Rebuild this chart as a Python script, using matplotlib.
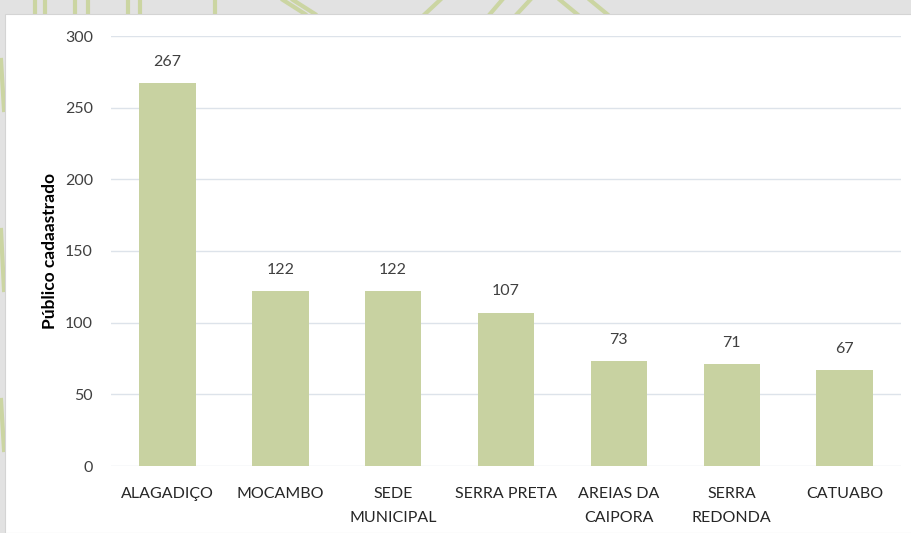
import matplotlib.pyplot as plt
from matplotlib.lines import Line2D
from matplotlib.patches import Rectangle

categories = ['ALAGADIÇO', 'MOCAMBO', 'SEDE\nMUNICIPAL', 'SERRA PRETA',
              'AREIAS DA\nCAIPORA', 'SERRA\nREDONDA', 'CATUABO']
values = [267, 122, 122, 107, 73, 71, 67]
yticks = [0, 50, 100, 150, 200, 250, 300]

plt.rcParams['font.family'] = ['Lato', 'DejaVu Sans']

W, H = 911, 533
fig = plt.figure(figsize=(W / 100, H / 100), dpi=100, facecolor='#e2e2e2')

# decorative green strokes peeking out behind the card (pixel coords, y from top)
deco = [((35, 35), (0, 14)), ((45, 45), (0, 14)), ((75, 75), (0, 14)),
        ((88, 88), (0, 14)), ((128, 128), (0, 14)), ((140, 140), (0, 14)),
        ((215, 215), (0, 14)), ((283, 305), (0, 14)), ((293, 315), (0, 14)),
        ((425, 440), (14, 0)), ((490, 502), (14, 0)), ((517, 530), (14, 0)),
        ((560, 577), (0, 14)), ((590, 607), (0, 14)),
        ((1, 4), (60, 110)), ((1, 4), (230, 290)), ((1, 4), (400, 450))]
for xs, ys in deco:
    fig.add_artist(Line2D([v / W for v in xs], [1 - v / H for v in ys],
                          transform=fig.transFigure, color='#cbd5a2', lw=3, zorder=-10))

# white card behind the chart
fig.patches.append(Rectangle((5 / W, 0), 1, 1 - 14 / H, transform=fig.transFigure,
                             facecolor='white', edgecolor='#d4d4d4', lw=0.8, zorder=-5))

ax = fig.add_axes([111 / W, 1 - 466 / H, 790 / W, 430 / H])
ax.set_facecolor('none')

x = range(len(categories))
bars = ax.bar(x, values, width=0.5, color='#c8d2a1', zorder=3)
for xi, v in zip(x, values):
    ax.text(xi, v + 10, str(v), ha='center', va='bottom', fontsize=11.5, color='#404040')

ax.set_xlim(-0.5, len(categories) - 0.5)
ax.set_ylim(0, 300)
ax.set_yticks(yticks)
ax.yaxis.grid(True, color='#dde3ea', lw=1, zorder=0)
ax.set_xticks(list(x))
ax.set_xticklabels(categories, fontsize=11.5, color='#262626', linespacing=1.9)
ax.tick_params(axis='y', labelsize=11.5, labelcolor='#404040', length=0, pad=13)
ax.tick_params(axis='x', length=0, pad=15)
for s in ax.spines.values():
    s.set_visible(False)

ax.set_ylabel('Público cadaastrado', fontsize=12.5, fontweight='bold', color='black', labelpad=5)

fig.savefig('out.png', dpi=100, facecolor=fig.get_facecolor())
